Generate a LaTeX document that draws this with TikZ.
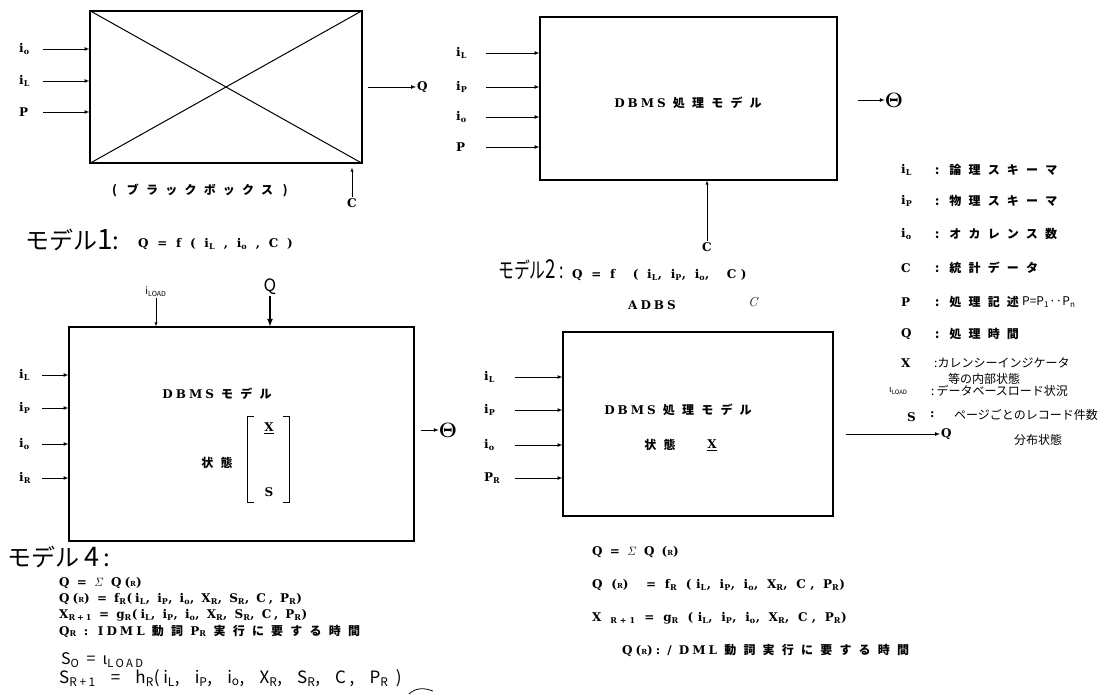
\documentclass[tikz,border=0pt]{standalone}
\usepackage[no-math]{fontspec}
\newfontfamily\jp{Noto Sans CJK JP}
\newfontfamily\jpn[FakeStretch=0.72]{Noto Sans CJK JP}
\newfontfamily\jpw[LetterSpace=60]{Noto Sans CJK JP}
\newfontfamily\hw[LetterSpace=22]{Noto Sans CJK JP}
\newfontfamily\typ[LetterSpace=25]{DejaVu Serif}
\newfontfamily\typw[LetterSpace=38]{DejaVu Serif}
\newcommand{\subx}[2]{#1\textsubscript{#2}}

\begin{document}
\begin{tikzpicture}[x=1pt,y=-1pt,
  box/.style={draw, line width=1.1pt, inner sep=0pt},
  tt/.style={font=\typ\bfseries\fontsize{12}{14}\selectfont, inner sep=1pt},
  ttw/.style={font=\typw\bfseries\fontsize{12}{14}\selectfont, inner sep=1pt},
  jt/.style={font=\jpw\bfseries\fontsize{12}{14}\selectfont, inner sep=1pt},
  hand/.style={font=\jp\fontsize{22}{24}\selectfont, inner sep=1pt},
  scrawl/.style={font=\jp\fontsize{12}{14}\selectfont, inner sep=1pt},
  feed/.style={-latex, line width=0.7pt}]
  \useasboundingbox (0,0) rectangle (1110,700);

  \node[box, minimum width=272pt, minimum height=152pt] (bb) at (226,87) {};
  \draw[line width=1pt] (bb.north west) -- (bb.south east);
  \draw[line width=1pt] (bb.south west) -- (bb.north east);
  \node[tt, anchor=west] (bbO) at (18,49) {\subx{i}{o}};
  \node[tt, anchor=west] (bbL) at (18,81) {\subx{i}{L}};
  \node[tt, anchor=west] (bbP) at (18,112) {P};
  \draw[feed, shorten <=25pt] (bbO.west) -- (bbO.west -| bb.west);
  \draw[feed, shorten <=25pt] (bbL.west) -- (bbL.west -| bb.west);
  \draw[feed, shorten <=25pt] (bbP.west) -- (bbP.west -| bb.west);
  \node[tt, anchor=west] (bbQ) at (416,87) {Q};
  \draw[feed, shorten <=5pt] (bbQ.west -| bb.east) -- (bbQ.west);
  \node[jt] (bbcap) at (200,190) {(\ ブラックボックス\ )};
  \node[tt] (bbC) at (352,203) {C};
  \draw[-latex, thin, shorten >=4pt] (bbC.north) -- (bbC.north |- bb.south);

  \node[hand, font=\jp\fontsize{24}{26}\selectfont, anchor=west] (m1) at (24,240) {モデル{\fontsize{28}{28}\selectfont 1}:};
  \node[ttw, anchor=west] (m1f) at (137,244) {Q = f ( \subx{i}{L} , \subx{i}{o} , C )};

  \node[box, minimum width=297pt, minimum height=163pt] (pm) at (688.5,98.5) {};
  \node[tt] (pmt) at (688,103) {DBMS {\jpw 処理モデル}};
  \node[tt, anchor=west] (pmL) at (455,53) {\subx{i}{L}};
  \node[tt, anchor=west] (pmP) at (455,87) {\subx{i}{P}};
  \node[tt, anchor=west] (pmO) at (455,117) {\subx{i}{o}};
  \node[tt, anchor=west] (pmR) at (455,147) {P};
  \draw[feed, shorten <=31pt] (pmL.west) -- (pmL.west -| pm.west);
  \draw[feed, shorten <=31pt] (pmP.west) -- (pmP.west -| pm.west);
  \draw[feed, shorten <=31pt] (pmO.west) -- (pmO.west -| pm.west);
  \draw[feed, shorten <=31pt] (pmR.west) -- (pmR.west -| pm.west);
  \node[font=\fontsize{20}{22}\selectfont, inner sep=0pt] (pmQ) at (894,100) {$\mathbf{\Theta}$};
  \draw[feed, shorten <=20pt] (pmQ.west -| pm.east) -- (pmQ.west);
  \node[tt] (pmC) at (707,247) {C};
  \draw[-latex, thin] (pmC.north) -- (pmC.north |- pm.south);

  \node[tt, anchor=west] (kL) at (900,170) {\subx{i}{L}};
  \node[tt, anchor=west] (kP) at (900,201) {\subx{i}{P}};
  \node[tt, anchor=west] (kO) at (900,234) {\subx{i}{o}};
  \node[tt, anchor=west] (kC) at (900,268) {C};
  \node[tt, anchor=west] (kR) at (900,302) {P};
  \node[tt, anchor=west] (kQ) at (900,334) {Q};
  \node[tt, anchor=west] (kX) at (900,363) {X};
  \node[scrawl, anchor=west] (kD) at (888,391) {\fontsize{9}{10}\selectfont ι\textsubscript{LOAD}};
  \node[tt, anchor=west] (kS) at (906,417) {S};
  \node[jt, anchor=west] (vL) at (934,170) {:\ 論理スキーマ};
  \node[jt, anchor=west] (vP) at (934,201) {:\ 物理スキーマ};
  \node[jt, anchor=west] (vO) at (934,234) {:\ オカレンス数};
  \node[jt, anchor=west] (vC) at (934,268) {:\ 統計データ};
  \node[jt, anchor=west] (vR) at (934,302) {:\ 処理記述};
  \node[scrawl, anchor=west] (vRn) at (1021,302) {P=P\textsubscript{1}··P\textsubscript{n}};
  \node[jt, anchor=west] (vQ) at (934,334) {:\ 処理時間};
  \node[scrawl, anchor=west] (vX) at (933,363) {:カレンシーインジケータ};
  \node[scrawl, anchor=west] (vX2) at (947,379) {等の内部状態};
  \node[scrawl, anchor=west] (vD) at (930,391) {:\,データベースロード状況};
  \node[tt, anchor=west] (vS) at (929,415) {:};
  \node[tt, anchor=west] (qs) at (940,434) {Q};
  \node[scrawl, anchor=west] (vS2) at (953,415) {ページごとのレコード件数};
  \node[scrawl, anchor=west] (vS3) at (1013,440) {分布状態};

  \node[hand, font=\jpn\fontsize{22}{24}\selectfont, anchor=west] (m2) at (497,270) {モデル{\fontsize{26}{26}\selectfont 2}\,:};
  \node[ttw, anchor=west] (m2f) at (571,275) {Q = f \ ( \subx{i}{L}, \subx{i}{P}, \subx{i}{o}, \ C)};
  \node[tt] (m2a) at (652,305) {ADBS};
  \node[font=\itshape\fontsize{13}{14}\selectfont] (m2c) at (753,302) {C};

  \node[box, minimum width=345pt, minimum height=214pt] (dm) at (241.5,434) {};
  \node[tt] (dmt) at (217,394) {DBMS {\jpw モデル}};
  \node[jt] (dms) at (217,463) {状態};
  \node[minimum width=41pt, minimum height=85pt, inner sep=0pt] (xs) at (268.5,459.5) {};
  \node[tt] (xsX) at (269,428) {\underline{X}};
  \node[tt] (xsS) at (269,492) {S};
  \draw[line width=0.9pt] ([xshift=6pt]xs.north west) -- (xs.north west) -- (xs.south west) -- ([xshift=6pt]xs.south west);
  \draw[line width=0.9pt] ([xshift=-6pt]xs.north east) -- (xs.north east) -- (xs.south east) -- ([xshift=-6pt]xs.south east);
  \node[tt, anchor=west] (dmL) at (18,375) {\subx{i}{L}};
  \node[tt, anchor=west] (dmP) at (18,408) {\subx{i}{P}};
  \node[tt, anchor=west] (dmO) at (18,444) {\subx{i}{o}};
  \node[tt, anchor=west] (dmR) at (18,478) {\subx{i}{R}};
  \draw[feed, shorten <=24pt] (dmL.west) -- (dmL.west -| dm.west);
  \draw[feed, shorten <=24pt] (dmP.west) -- (dmP.west -| dm.west);
  \draw[feed, shorten <=24pt] (dmO.west) -- (dmO.west -| dm.west);
  \draw[feed, shorten <=24pt] (dmR.west) -- (dmR.west -| dm.west);
  \node[font=\fontsize{22}{24}\selectfont, inner sep=0pt] (dmQ) at (448,430) {$\mathbf{\Theta}$};
  \draw[feed, shorten <=6pt] (dmQ.west -| dm.east) -- (dmQ.west);
  \node[scrawl] (ld) at (156,292) {\fontsize{10}{11}\selectfont i\textsubscript{LOAD}};
  \draw[-latex, thin] (ld.south) -- (ld.south |- dm.north);
  \node[hand, font=\jp\fontsize{17}{18}\selectfont] (qh) at (270,287) {Q};
  \draw[-latex, line width=1.6pt] (qh.south) -- (qh.south |- dm.north);

  \node[box, minimum width=270pt, minimum height=184pt] (am) at (698,424) {};
  \node[tt] (amt) at (678,410) {DBMS {\jpw 処理モデル}};
  \node[jt] (ams) at (660,445) {状態};
  \node[tt] (amX) at (712,445) {\underline{X}};
  \node[tt, anchor=west] (amL) at (483,377) {\subx{i}{L}};
  \node[tt, anchor=west] (amP) at (483,410) {\subx{i}{P}};
  \node[tt, anchor=west] (amO) at (483,445) {\subx{i}{o}};
  \node[tt, anchor=west] (amR) at (483,478) {\subx{P}{R}};
  \draw[feed, shorten <=32pt] (amL.west) -- (amL.west -| am.west);
  \draw[feed, shorten <=32pt] (amP.west) -- (amP.west -| am.west);
  \draw[feed, shorten <=32pt] (amO.west) -- (amO.west -| am.west);
  \draw[feed, shorten <=32pt] (amR.west) -- (amR.west -| am.west);
  \draw[feed, shorten <=12pt] (qs.west -| am.east) -- (qs.west);

  \node[tt, anchor=west] (r1) at (591,552) {Q = $\mathit{\Sigma}$ Q ({\scriptsize R})};
  \node[ttw, anchor=west] (r2) at (591,585) {Q ({\scriptsize R}) \ = \subx{f}{R} (\subx{i}{L}, \subx{i}{P}, \subx{i}{o}, \subx{X}{R}, C, \subx{P}{R})};
  \node[ttw, anchor=west] (r3) at (591,618) {X \textsubscript{R+1} = \subx{g}{R} (\subx{i}{L}, \subx{i}{P}, \subx{i}{o}, \subx{X}{R}, C, \subx{P}{R})};
  \node[tt, anchor=west] (r4) at (621,650) {Q({\scriptsize R}): / DML {\jpw 動詞実行に要する時間}};

  \node[hand, font=\jp\fontsize{24}{26}\selectfont, anchor=west] (m4) at (6,557) {モデル\ {\fontsize{27}{27}\selectfont 4}\,:};
  \node[tt, anchor=west] (s1) at (58,583) {Q = $\mathit{\Sigma}$ Q({\scriptsize R})};
  \node[tt, anchor=west] (s2) at (58,599) {Q({\scriptsize R}) = \subx{f}{R}(\subx{i}{L}, \subx{i}{P}, \subx{i}{o}, \subx{X}{R}, \subx{S}{R}, C, \subx{P}{R})};
  \node[tt, anchor=west] (s3) at (58,615) {\subx{X}{R+1} = \subx{g}{R}(\subx{i}{L}, \subx{i}{P}, \subx{i}{o}, \subx{X}{R}, \subx{S}{R}, C, \subx{P}{R})};
  \node[tt, anchor=west] (s4) at (58,631) {\subx{Q}{R} : IDML {\jpw 動詞} \subx{P}{R} {\jpw 実行に要する時間}};
  \node[scrawl, font=\hw\fontsize{16}{17}\selectfont, anchor=west] (s5) at (60,660) {S\textsubscript{O} = ι\textsubscript{LOAD}};
  \node[scrawl, font=\hw\fontsize{17}{18}\selectfont, anchor=west] (s6) at (58,678) {S\textsubscript{R+1} \ = \ h\textsubscript{R}(i\textsubscript{L}, \ i\textsubscript{P}, \ i\textsubscript{o}, \ X\textsubscript{R}, \ S\textsubscript{R}, \ C, \ P\textsubscript{R} )};
  \draw[line width=0.8pt] ([xshift=6pt,yshift=-16pt]s6.east) .. controls +(8,-7) and +(-8,-3) .. +(24,-3);
\end{tikzpicture}
\end{document}
